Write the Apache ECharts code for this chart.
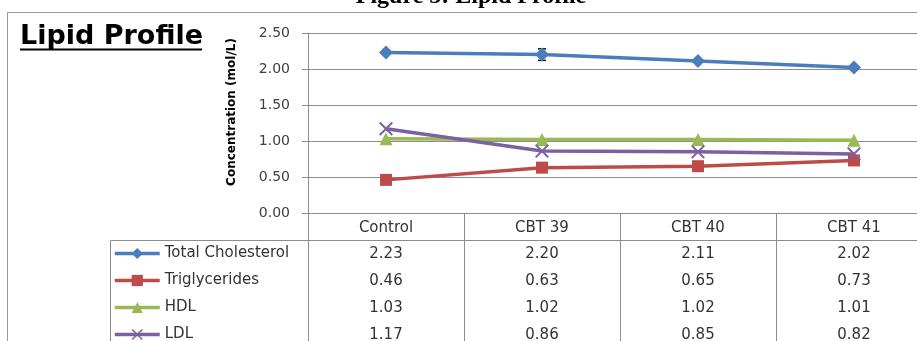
<!DOCTYPE html>
<html>
<head>
<meta charset="utf-8">
<title>Lipid Profile</title>
<script src="https://cdn.jsdelivr.net/npm/echarts@6/dist/echarts.min.js"></script>
<style>
  html, body { margin: 0; padding: 0; background: #fff; overflow: hidden; }
  /* the last column runs off the right edge in the original, so the chart is wider than the window */
  #chart { width: 932px; height: 341px; }
</style>
</head>
<body>
<div id="chart"></div>
<script>
// groups
const categories = ['Control', 'CBT 39', 'CBT 40', 'CBT 41']
// concentration (mol/L)
const totalCholesterol = [2.23, 2.20, 2.11, 2.02]
const triglycerides = [0.46, 0.63, 0.65, 0.73]
const hdl = [1.03, 1.02, 1.02, 1.01]
const ldl = [1.17, 0.86, 0.85, 0.82]
// error bar on total cholesterol (only the CBT 39 one shows above its marker)
const totalCholesterolErr = [0, 0.08, 0, 0]
const yTicks = [0, 0.5, 1, 1.5, 2, 2.5]

const seriesNames = ['Total Cholesterol', 'Triglycerides', 'HDL', 'LDL']
const seriesData = [totalCholesterol, triglycerides, hdl, ldl]

const color = ['#4A7EBB', '#BE4B48', '#98B954', '#7D60A0']
const symbols = [
  'diamond',
  'rect',
  'triangle',
  'path://M0,1 L1,0 L5,4 L9,0 L10,1 L6,5 L10,9 L9,10 L5,6 L1,10 L0,9 L4,5 Z'
]
const symbolSizes = [14, 12, 13, 14]
// distance of each data-table row below the x axis
const rowMargins = [34, 61, 88, 115]

const lineGray = '#8c8c8c'
const textColor = '#333'
const font = 'DejaVu Sans'

const chart = echarts.init(document.getElementById('chart'))

const lineSeries = seriesNames.map((name, i) => ({
  name: name,
  type: 'line',
  xAxisIndex: 0,
  yAxisIndex: 0,
  data: seriesData[i],
  symbol: symbols[i],
  symbolSize: symbolSizes[i],
  showAllSymbol: true,
  lineStyle: { color: color[i], width: 3.5 },
  itemStyle: { color: color[i] },
  z: 3
}))

const errorSeries = {
  name: 'err',
  type: 'custom',
  xAxisIndex: 0,
  yAxisIndex: 0,
  z: 2,
  data: totalCholesterol.map((v, i) => [i, v - totalCholesterolErr[i], v + totalCholesterolErr[i]]),
  renderItem: function (params, api) {
    if (api.value(1) === api.value(2)) return null
    const lo = api.coord([api.value(0), api.value(1)])
    const hi = api.coord([api.value(0), api.value(2)])
    const w = 4
    const st = { stroke: '#111', lineWidth: 1.5 }
    return {
      type: 'group',
      children: [
        { type: 'line', shape: { x1: hi[0], y1: hi[1], x2: lo[0], y2: lo[1] }, style: st },
        { type: 'line', shape: { x1: hi[0] - w, y1: hi[1], x2: hi[0] + w, y2: hi[1] }, style: st },
        { type: 'line', shape: { x1: lo[0] - w, y1: lo[1], x2: lo[0] + w, y2: lo[1] }, style: st }
      ]
    }
  }
}

const tableAxes = seriesData.map((d, i) => ({
  type: 'category',
  gridIndex: 0,
  position: 'bottom',
  data: d.map(v => v.toFixed(2)),
  axisLine: { show: false },
  axisTick: { show: false },
  splitLine: { show: false },
  axisLabel: {
    interval: 0,
    margin: rowMargins[i],
    fontSize: 15,
    fontFamily: font,
    color: textColor
  }
}))

const option = {
  backgroundColor: '#fff',
  color: color,
  animation: false,
  grid: {
    left: 308,
    right: 0,
    top: 33,
    bottom: 128,
    outerBoundsMode: 'none'
  },
  legend: {
    data: seriesNames,
    orient: 'vertical',
    left: 113,
    top: 246,
    width: 190,
    height: 130,
    padding: 0,
    itemWidth: 45,
    itemHeight: 14,
    itemGap: 12,
    lineStyle: { width: 3.5 },
    textStyle: { fontSize: 15, fontFamily: font, color: textColor }
  },
  xAxis: [{
    type: 'category',
    position: 'bottom',
    data: categories,
    axisLine: { lineStyle: { color: lineGray } },
    axisTick: { show: true, length: 130, lineStyle: { color: lineGray } },
    splitLine: { show: false },
    axisLabel: {
      interval: 0,
      margin: 8,
      fontSize: 15,
      fontFamily: font,
      color: textColor
    }
  }].concat(tableAxes),
  yAxis: {
    type: 'value',
    min: yTicks[0],
    max: yTicks[yTicks.length - 1],
    interval: yTicks[1] - yTicks[0],
    axisLine: { show: true, lineStyle: { color: lineGray } },
    axisTick: { show: true, length: 6, lineStyle: { color: lineGray } },
    axisLabel: {
      margin: 18,
      fontSize: 14,
      fontFamily: font,
      color: '#404040',
      formatter: v => v.toFixed(2)
    },
    splitLine: { lineStyle: { color: lineGray, width: 1 } }
  },
  graphic: [
    // page heading, cut off at the top
    {
      type: 'text', x: 471, y: -3, z: 10,
      style: { text: 'Figure 5: Lipid Profile', font: 'bold 24px "Liberation Serif"', fill: '#000', align: 'center', verticalAlign: 'middle' }
    },
    // chart frame
    { type: 'line', shape: { x1: 7, y1: 12.5, x2: 932, y2: 12.5 }, style: { stroke: '#9a9a9a', lineWidth: 1 } },
    { type: 'line', shape: { x1: 7.5, y1: 12, x2: 7.5, y2: 341 }, style: { stroke: '#9a9a9a', lineWidth: 1 } },
    // chart title, underlined
    {
      type: 'text', x: 20, y: 37,
      style: { text: 'Lipid Profile', font: 'bold 27px "DejaVu Sans"', fill: '#000', align: 'left', verticalAlign: 'middle' }
    },
    { type: 'line', shape: { x1: 20, y1: 49.5, x2: 202, y2: 49.5 }, style: { stroke: '#000', lineWidth: 2 } },
    // y axis name
    {
      type: 'text', x: 232, y: 112, rotation: Math.PI / 2,
      style: { text: 'Concentration (mol/L)', font: 'bold 12px "DejaVu Sans"', fill: '#000', align: 'center', verticalAlign: 'middle' }
    },
    // data table borders
    { type: 'rect', shape: { x: 110.5, y: 240.5, width: 198, height: 110 }, style: { fill: 'none', stroke: lineGray, lineWidth: 1 } },
    { type: 'line', shape: { x1: 308, y1: 240.5, x2: 932, y2: 240.5 }, style: { stroke: lineGray, lineWidth: 1 } }
  ],
  series: [errorSeries].concat(lineSeries)
}

chart.setOption(option)
</script>
</body>
</html>
